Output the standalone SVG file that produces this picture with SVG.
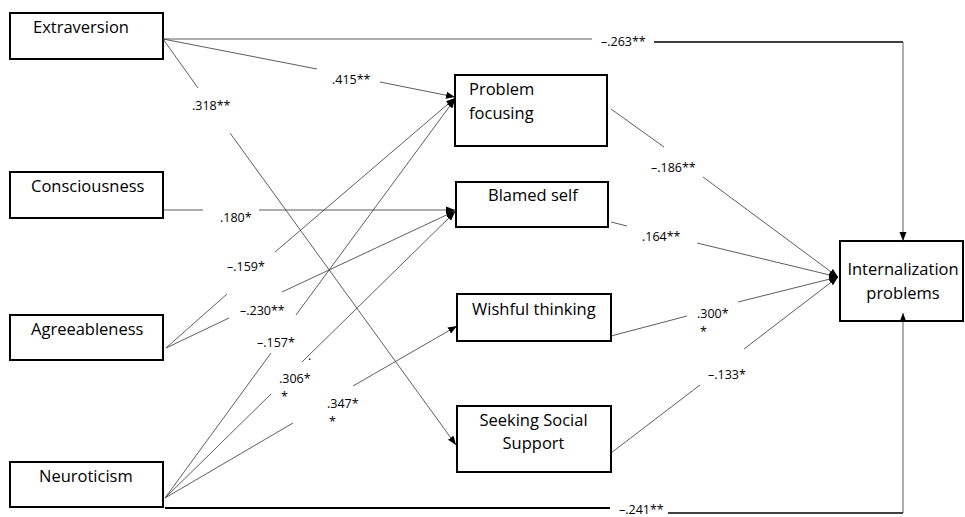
<svg xmlns="http://www.w3.org/2000/svg" width="965" height="517" viewBox="0 0 965 517">
<defs>
<marker id="ah" markerUnits="userSpaceOnUse" markerWidth="10" markerHeight="8" refX="9" refY="4" orient="auto">
<path d="M0,0.5 L9,4 L0,7.5 Z" fill="#000"/>
</marker>
<style>
.box{fill:#fff;stroke:#000;stroke-width:2}
.lbl{font-family:"Open Sans","Liberation Sans",sans-serif;font-size:16.5px;fill:#000}
.num{font-family:"Open Sans","Liberation Sans",sans-serif;font-size:12.5px;fill:#000}
.c{fill:none;stroke:#333;stroke-width:0.8}
.ca{fill:none;stroke:#333;stroke-width:0.8;marker-end:url(#ah)}
.thick{fill:none;stroke:#000;stroke-width:1.6}
</style>
</defs>
<rect width="965" height="517" fill="#fff"/>
<g id="extraversion">
<rect class="box" x="10" y="13" width="153" height="46"/>
<text class="lbl" x="33" y="33">Extraversion</text>
</g>
<g id="consciousness">
<rect class="box" x="10" y="172" width="153" height="46"/>
<text class="lbl" x="31" y="192">Consciousness</text>
</g>
<g id="agreeableness">
<rect class="box" x="10" y="315" width="153" height="45"/>
<text class="lbl" x="31" y="335">Agreeableness</text>
</g>
<g id="neuroticism">
<rect class="box" x="10" y="462" width="153" height="45"/>
<text class="lbl" x="39" y="482">Neuroticism</text>
</g>
<g id="problem-focusing">
<rect class="box" x="455" y="75" width="152" height="71"/>
<text class="lbl" x="469" y="95">Problem</text>
<text class="lbl" x="469" y="119">focusing</text>
</g>
<g id="blamed-self">
<rect class="box" x="456" y="182" width="152" height="45"/>
<text class="lbl" x="488" y="201">Blamed self</text>
</g>
<g id="wishful-thinking">
<rect class="box" x="457" y="294" width="154" height="47"/>
<text class="lbl" x="472" y="315">Wishful thinking</text>
</g>
<g id="seeking-social-support">
<rect class="box" x="457" y="406" width="154" height="66"/>
<text class="lbl" x="533.5" y="426" text-anchor="middle">Seeking Social</text>
<text class="lbl" x="533.5" y="449" text-anchor="middle">Support</text>
</g>
<g id="internalization-problems">
<rect class="box" x="840" y="241" width="123" height="80"/>
<text class="lbl" x="903" y="275" text-anchor="middle">Internalization</text>
<text class="lbl" x="903" y="299" text-anchor="middle">problems</text>
</g>
<g id="connectors">
<!-- Extraversion -> Internalization -->
<path class="c" d="M163,39 L592,39"/>
<path class="thick" d="M654,42 L903,42"/>
<path class="ca" d="M903,42 L903,241"/>
<text class="num" x="601" y="46">–.263**</text>
<!-- Extraversion -> Problem focusing -->
<path class="c" d="M163,39 L317,69"/>
<path class="ca" d="M380,82 L455,97"/>
<text class="num" x="332" y="84">.415**</text>
<!-- Extraversion -> Seeking Social Support -->
<path class="c" d="M163,39 L198,88"/>
<path class="ca" d="M230,133 L456,445"/>
<text class="num" x="192" y="110">.318**</text>
<!-- Consciousness -> Blamed self -->
<path class="c" d="M163,210 L203,210"/>
<path class="ca" d="M259,210 L455,210"/>
<text class="num" x="220" y="222">.180*</text>
<!-- Agreeableness -> Problem focusing -->
<path class="c" d="M166,348 L227,294"/>
<path class="ca" d="M275,252 L455,98"/>
<text class="num" x="227" y="271">–.159*</text>
<!-- Agreeableness -> Blamed self -->
<path class="c" d="M166,348 L229,318"/>
<path class="ca" d="M282,292 L455,211"/>
<text class="num" x="240" y="315">–.230**</text>
<!-- Neuroticism -> Problem focusing -->
<path class="c" d="M165,498 L271,353"/>
<path class="ca" d="M296,315 L455,99"/>
<text class="num" x="257" y="347">–.157*</text>
<!-- Neuroticism -> Blamed self -->
<path class="c" d="M165,498 L271,394"/>
<path class="ca" d="M302,362 L455,212"/>
<text class="num" x="279" y="383">.306*</text>
<text class="num" x="281" y="401">*</text>
<text class="num" x="308" y="360">.</text>
<!-- Neuroticism -> Wishful thinking -->
<path class="c" d="M165,498 L293,423"/>
<path class="ca" d="M353,386 L457,326"/>
<text class="num" x="327" y="408">.347*</text>
<text class="num" x="329" y="426">*</text>
<!-- Neuroticism -> Internalization -->
<path d="M165,508 L610,508" fill="none" stroke="#000" stroke-width="2"/>
<path class="thick" d="M668,513 L903,513"/>
<path class="ca" d="M903,513 L903,313"/>
<text class="num" x="619" y="514">–.241**</text>
<!-- Problem focusing -> Internalization -->
<path class="c" d="M611,109 L664,147"/>
<path class="ca" d="M703,177 L838,277"/>
<text class="num" x="651" y="172">–.186**</text>
<!-- Blamed self -> Internalization -->
<path class="c" d="M611,222 L627,226"/>
<path class="ca" d="M697,243 L838,277"/>
<text class="num" x="642" y="241">.164**</text>
<!-- Wishful thinking -> Internalization -->
<path class="c" d="M611,336 L687,316"/>
<path class="ca" d="M738,302 L838,277"/>
<text class="num" x="697" y="318">.300*</text>
<text class="num" x="700" y="336">*</text>
<!-- Seeking Social Support -> Internalization -->
<path class="c" d="M611,453 L700,385"/>
<path class="ca" d="M744,349 L838,277"/>
<text class="num" x="708" y="379">–.133*</text>
</g>
</svg>
